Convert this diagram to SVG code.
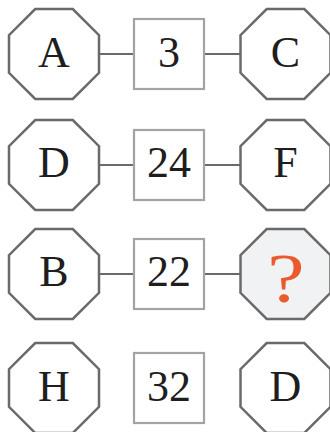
<svg xmlns="http://www.w3.org/2000/svg" width="330" height="432" viewBox="0 0 330 432">
<style>
.oct{fill:#fff;stroke:#6a6a6a;stroke-width:2.5;stroke-linejoin:miter}
.q{fill:#f1f2f4}
.sq{fill:#fff;stroke:#a3a3a3;stroke-width:2.2}
.ln{stroke:#6a6a6a;stroke-width:2.2}
.t{font-family:"Liberation Serif","Times New Roman",serif;font-size:44px;fill:#1e1e1e;text-anchor:middle}
.qm{font-family:"Liberation Serif","Times New Roman",serif;font-size:70px;fill:#ea5a2a;text-anchor:middle}
</style>
<defs>
<polygon id="o" points="-18.8,-45 18.8,-45 45,-18.8 45,18.8 18.8,45 -18.8,45 -45,18.8 -45,-18.8"/>
</defs>
<g id="connectors">
<line class="ln" x1="99" y1="54" x2="134" y2="54"/>
<line class="ln" x1="204" y1="54" x2="240" y2="54"/>
<line class="ln" x1="99" y1="165" x2="134" y2="165"/>
<line class="ln" x1="204" y1="165" x2="240" y2="165"/>
<line class="ln" x1="99" y1="274" x2="134" y2="274"/>
<line class="ln" x1="204" y1="274" x2="240" y2="274"/>
</g>
<g id="nA"><use href="#o" class="oct" x="54" y="54"/><text class="t" x="54" y="67">A</text></g>
<g id="n3"><rect class="sq" x="134" y="19" width="70" height="70"/><text class="t" x="169" y="67">3</text></g>
<g id="nC"><use href="#o" class="oct" x="285.5" y="54"/><text class="t" x="285.5" y="67">C</text></g>
<g id="nD1"><use href="#o" class="oct" x="54" y="165"/><text class="t" x="54" y="177">D</text></g>
<g id="n24"><rect class="sq" x="134" y="130" width="70" height="70"/><text class="t" x="169" y="177">24</text></g>
<g id="nF"><use href="#o" class="oct" x="285.5" y="165"/><text class="t" x="285.5" y="177">F</text></g>
<g id="nB"><use href="#o" class="oct" x="54" y="274"/><text class="t" x="54" y="286">B</text></g>
<g id="n22"><rect class="sq" x="134" y="239" width="70" height="70"/><text class="t" x="169" y="286">22</text></g>
<g id="nQ"><use href="#o" class="oct q" x="285.5" y="274"/><text class="qm" transform="translate(286,302) scale(1.2,1)">?</text></g>
<g id="nH"><use href="#o" class="oct" x="54" y="388"/><text class="t" x="54" y="401">H</text></g>
<g id="n32"><rect class="sq" x="134" y="353" width="70" height="70"/><text class="t" x="169" y="401">32</text></g>
<g id="nD2"><use href="#o" class="oct" x="285.5" y="388"/><text class="t" x="285.5" y="401">D</text></g>
</svg>
